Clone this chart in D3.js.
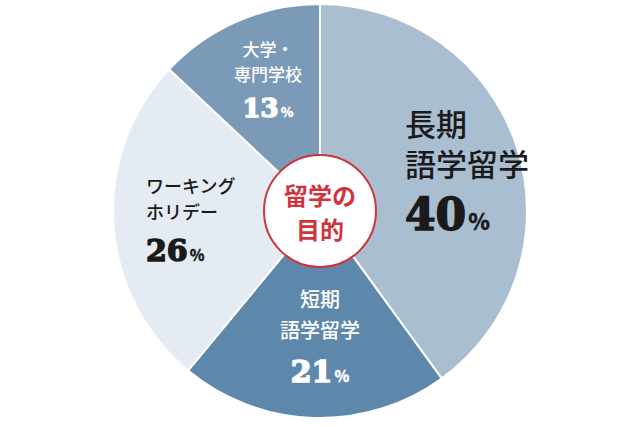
<!DOCTYPE html><html><head><meta charset="utf-8"><script src="https://cdn.jsdelivr.net/npm/d3@7"></script>
<style>body{margin:0;background:#fff}</style></head><body><svg width="640" height="427"></svg>
<script>
const categories=["長期語学留学","短期語学留学","ワーキングホリデー","大学・専門学校"];
const values=[40,21,26,13];
const colors=["#aabed2","#5d88ab","#e4ebf2","#7b9ab8"];
const labelLines=[["長期","語学留学"],["短期","語学留学"],["ワーキング","ホリデー"],["大学・","専門学校"]];
const svg=d3.select("svg");
const cx=320,cy=211,R=207;
const g=svg.append("g").attr("transform",`translate(${cx},${cy})`);
const pie=d3.pie().sort(null).value(d=>d)(values);
const arc=d3.arc().innerRadius(0).outerRadius(R);
g.selectAll("path").data(pie).join("path").attr("d",arc).attr("fill",(d,i)=>colors[i]).attr("stroke","#fff").attr("stroke-width",2);
const font="'Noto Sans CJK JP',sans-serif";
const cfg=[
 {x:85,y:-75,fs:31,nfs:44,col:"#1a1a1a",anchor:"start",gap:40,ngap:54},
 {x:0,y:96,fs:20,nfs:30,col:"#fff",anchor:"middle",gap:31,ngap:44},
 {x:-174,y:-18,fs:18,nfs:30,col:"#1a1a1a",anchor:"start",gap:26,ngap:42},
 {x:-52,y:-155,fs:17,nfs:26,col:"#fff",anchor:"middle",gap:25,ngap:36}];
pie.forEach((d,i)=>{const c=cfg[i];
 const t=g.append("g").attr("fill",c.col).attr("text-anchor",c.anchor);
 labelLines[i].forEach((l,j)=>t.append("text").attr("x",c.x).attr("y",c.y+j*c.gap).attr("font-family",font).attr("font-size",c.fs).attr("font-weight",500).text(l));
 const n=t.append("text").attr("x",c.x).attr("y",c.y+(labelLines[i].length-1)*c.gap+c.ngap).attr("font-family","'DejaVu Serif',serif").attr("font-weight",900).attr("font-size",c.nfs).attr("stroke",c.col).attr("stroke-width",1.5);
 n.append("tspan").text(values[i]);
 n.append("tspan").attr("font-size",c.nfs*0.5).attr("font-family",font).attr("stroke-width",0.3).attr("dx",2).text("%");
});
g.append("circle").attr("r",56).attr("fill","#fff").attr("stroke","#d0333c").attr("stroke-width",2);
["留学の","目的"].forEach((l,j)=>g.append("text").attr("y",-6+j*34).attr("text-anchor","middle").attr("fill","#d0333c").attr("font-family",font).attr("font-weight",700).attr("font-size",24).text(l));
</script></body></html>
